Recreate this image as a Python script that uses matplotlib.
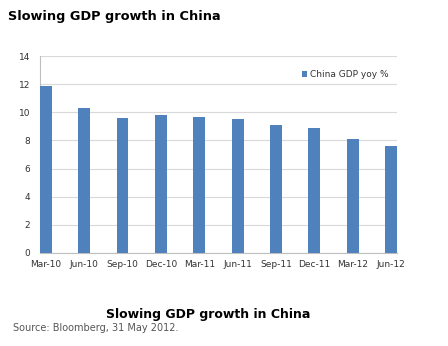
import matplotlib.pyplot as plt

# quarterly GDP growth, year on year %
quarters = ['Mar-10', 'Jun-10', 'Sep-10', 'Dec-10', 'Mar-11',
            'Jun-11', 'Sep-11', 'Dec-11', 'Mar-12', 'Jun-12']
gdp_yoy = [11.9, 10.3, 9.6, 9.8, 9.7, 9.5, 9.1, 8.9, 8.1, 7.6]
y_ticks = [0, 2, 4, 6, 8, 10, 12, 14]

fig = plt.figure(figsize=(4.48, 3.46), dpi=100)
ax = fig.add_axes([0.089, 0.269, 0.797, 0.569])

width = 0.31
x = list(range(len(quarters)))
ax.bar(x, gdp_yoy, width=width, color='#4f81bd', label='China GDP yoy %', zorder=3)

ax.set_xlim(-width / 2, len(quarters) - 1 + width / 2)
ax.set_ylim(0, 14)
ax.set_yticks(y_ticks)
ax.set_xticks(x)
ax.set_xticklabels(quarters)
ax.tick_params(axis='both', length=0, labelsize=6.5, colors='#333333')
ax.tick_params(axis='x', pad=5)
ax.tick_params(axis='y', pad=7)
ax.grid(axis='y', color='#d9d9d9', linewidth=0.8, zorder=0)
for side in ['top', 'right']:
    ax.spines[side].set_visible(False)
ax.spines['left'].set_color('#bfbfbf')
ax.spines['bottom'].set_color('#bfbfbf')

leg = ax.legend(loc='upper right', bbox_to_anchor=(1.0, 0.97), frameon=False,
                fontsize=6.5, handlelength=0.6, handleheight=0.6, handletextpad=0.3)
for t in leg.get_texts():
    t.set_color('#333333')

fig.text(0.018, 0.953, 'Slowing GDP growth in China', fontsize=9.3,
         fontweight='bold', va='center', ha='left')
fig.text(0.465, 0.09, 'Slowing GDP growth in China', fontsize=9,
         fontweight='bold', va='center', ha='center')
fig.text(0.03, 0.052, 'Source: Bloomberg, 31 May 2012.', fontsize=7,
         color='#555555', va='center', ha='left')

fig.savefig('out.png', dpi=100)
